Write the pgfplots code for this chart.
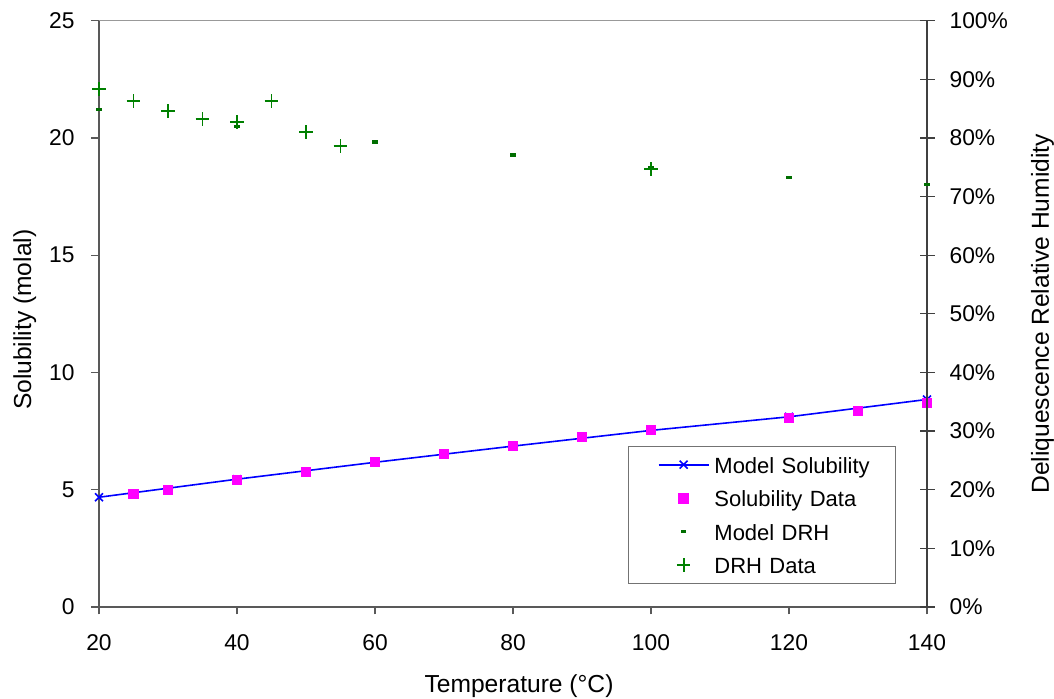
\documentclass[border=0pt]{standalone}
\usepackage{pgfplots}
\usepackage{pgfplotstable}
\pgfplotsset{compat=1.18}
\usepackage{fontspec}
\setmainfont{Liberation Sans}

\definecolor{solblue}{RGB}{0,0,255}
\definecolor{solmag}{RGB}{255,0,255}
\definecolor{drhgreen}{RGB}{0,128,0}
\definecolor{drhdark}{RGB}{0,110,0}

\pgfplotstableread{
T S
20 4.68
40 5.45
60 6.17
80 6.86
100 7.53
120 8.11
140 8.85
}\modelsol

\pgfplotstableread{
T S
25 4.82
30 4.99
40 5.42
50 5.76
60 6.18
70 6.52
80 6.87
90 7.25
100 7.55
120 8.06
130 8.36
140 8.71
}\soldata

\pgfplotstableread{
T R
20 84.9
40 81.9
60 79.3
80 77.1
100 74.9
120 73.3
140 72.0
}\modeldrh

\pgfplotstableread{
T R
20 88.3
25 86.3
30 84.6
35 83.2
40 82.7
45 86.3
50 81.0
55 78.6
100 74.7
}\drhdata

\pgfplotsset{
  lineleg/.style={legend image code/.code={%
    \path[draw=none,fill=none] (0pt,-0.5pt) rectangle (37pt,0.5pt);
    \draw[mark repeat=2,mark phase=2,##1] plot coordinates {(12pt,0pt)(24.5pt,0pt)(37pt,0pt)};}},
  markleg/.style={legend image code/.code={%
    \path[draw=none,fill=none] (0pt,-0.5pt) rectangle (37pt,0.5pt);
    \draw[##1] plot coordinates {(24.5pt,0pt)};}},
}
\tikzset{
  tickfont/.style={font=\fontsize{11.4}{13}\selectfont},
  labfont/.style={font=\fontsize{12.3}{14}\selectfont},
}

\begin{document}
\begin{tikzpicture}
\useasboundingbox (0,0) rectangle (527pt,349.5pt);
\begin{axis}[
  at={(49.5pt,46pt)}, anchor=south west,
  scale only axis, width=414pt, height=293.15pt,
  xmin=20, xmax=140, ymin=0, ymax=25,
  xtick={20,40,...,140}, ytick={0,5,...,25},
  axis x line*=bottom, axis y line*=left,
  axis line style={-, black!65, line width=0.6pt},
  tick align=outside, major tick length=3.75pt,
  tick style={black!65, line width=0.6pt},
  /pgf/number format/assume math mode=true,
  ticklabel style={tickfont},
  xticklabel style={anchor=north, yshift=-6.5pt},
  yticklabel style={anchor=east, xshift=-5pt},
  xlabel={Temperature (°C)},
  ylabel={Solubility (molal)},
  xlabel style={labfont, at={(axis description cs:0.5,0)}, anchor=base, yshift=-43pt, xshift=3pt},
  ylabel style={labfont, at={(axis description cs:-0.0821,0.49)}, anchor=base},
  clip=false,
]
\draw[black!40, line width=0.6pt] (rel axis cs:0,1) -- (rel axis cs:1,1);
\addplot[solblue, line width=0.8pt, mark=x, mark size=2.8pt, mark options={line width=0.8pt}] table[x=T,y=S] {\modelsol};
\addplot[only marks, mark=square*, mark size=2.4pt, color=solmag, mark options={fill=solmag, draw=solmag}] table[x=T,y=S] {\soldata};
\end{axis}
\begin{axis}[
  at={(49.5pt,46pt)}, anchor=south west,
  scale only axis, width=414pt, height=293.15pt,
  xmin=20, xmax=140, ymin=0, ymax=100,
  axis x line=none, axis y line*=right,
  axis line style={-, black!75, line width=0.6pt},
  ytick={0,10,...,100},
  tick align=center, major tick length=7.5pt,
  tick style={black!75, line width=0.6pt},
  /pgf/number format/assume math mode=true,
  yticklabel={\pgfmathprintnumber{\tick}\%},
  ticklabel style={tickfont},
  yticklabel style={anchor=west, xshift=4pt},
  ylabel={Deliquescence Relative Humidity},
  ylabel style={labfont, at={(axis description cs:1.1473,0.5)}, anchor=base},
  clip=false,
  legend style={at={(rel axis cs:0.9626,0.0392)}, anchor=south east,
    draw=black!55, line width=0.6pt, fill=white,
    inner xsep=3pt, inner ysep=3.5pt, row sep=5.2pt, column sep=2.5pt,
    nodes={inner xsep=0pt, inner ysep=0pt, text height=10pt, text depth=1.5pt},
    font=\fontsize{11}{13}\selectfont},
  legend cell align=left,
]
\addlegendimage{solblue, line width=0.8pt, mark=x, mark size=2.8pt, mark options={line width=0.8pt}, lineleg}
\addlegendentry[text width=87.5pt]{Model Solubility}
\addlegendimage{only marks, mark=square*, mark size=2.4pt, color=solmag, mark options={fill=solmag, draw=solmag}, markleg}
\addlegendentry[text width=87.5pt]{Solubility Data}
\addplot[only marks, mark=-, mark size=1.3pt, color=drhdark, mark options={line width=1.6pt}, markleg] table[x=T,y=R] {\modeldrh};
\addlegendentry[text width=87.5pt]{Model DRH}
\addplot[only marks, mark=+, mark size=3.4pt, color=drhgreen, mark options={line width=0.9pt}, markleg] table[x=T,y=R] {\drhdata};
\addlegendentry[text width=87.5pt]{DRH Data}
\end{axis}
\end{tikzpicture}
\end{document}
